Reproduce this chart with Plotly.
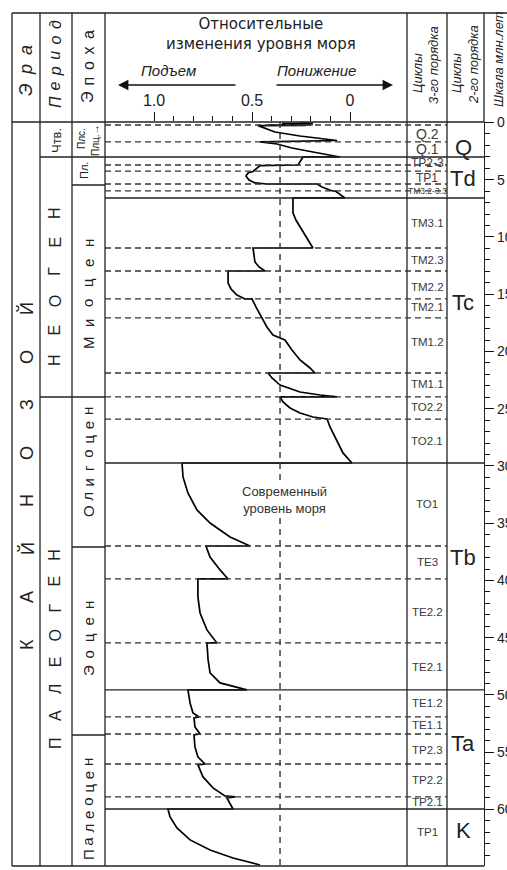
import plotly.graph_objects as go

W, H = 507, 870
SANS = "Liberation Sans, Arial, sans-serif"
WIDE = "DejaVu Sans, Verdana, sans-serif"

# ---------------- data ----------------
# sea-level curve: age (Ma) and relative level (1.0 = high, 0 = low)
ages = [0.04, 0.07, 0.10, 0.13, 0.16, 0.19, 0.22, 0.25, 0.27,
        0.83, 1.18, 1.57, 1.66, 1.70,
        1.88, 2.23, 2.58, 3.01, 3.01,
        3.71, 3.76, 4.28,
        4.41, 4.67, 5.02, 5.28, 5.37, 5.37,
        5.63, 5.94, 6.03, 6.24, 6.59, 6.59,
        7.90, 8.52, 9.13, 10.09, 10.96, 10.96,
        11.57, 12.18, 12.62, 12.97, 12.97,
        14.02, 14.54, 15.07, 15.41, 15.41,
        16.11, 16.46, 17.07, 17.86, 18.56, 18.82, 19.00, 19.87, 20.74, 21.44, 21.88, 21.88,
        22.31, 22.93, 23.54, 23.80, 23.97, 23.97,
        24.41, 24.93, 25.37, 25.72, 25.90,
        26.59, 27.29, 27.73, 28.86, 29.74, 29.74,
        30.96, 32.36, 33.84, 34.98, 36.20, 36.99, 36.99,
        37.95, 39.08, 39.87, 39.87,
        41.44, 42.84, 44.32, 45.46, 45.46,
        46.94, 48.08, 48.95, 49.30, 49.56, 49.56,
        50.70, 51.57, 51.92, 52.01,
        52.79, 53.41, 53.49,
        54.54, 55.41, 56.03, 56.11,
        57.16, 58.12, 58.82, 58.91, 58.99,
        59.34, 59.87, 59.96, 59.96,
        60.66, 61.62, 62.66, 63.54, 64.24, 64.85]
levels = [0.255, 0.189, 0.347, 0.199, 0.330, 0.190, 0.418, 0.224, 0.469,
          0.383, 0.255, 0.066, 0.357, 0.459,
          0.372, 0.296, 0.189, 0.051, 0.240,
          0.265, 0.459, 0.495,
          0.520, 0.531, 0.515, 0.485, 0.424, 0.168,
          0.143, 0.097, 0.071, 0.056, 0.026, 0.291,
          0.291, 0.276, 0.255, 0.219, 0.189, 0.495,
          0.490, 0.485, 0.464, 0.434, 0.622,
          0.622, 0.607, 0.577, 0.536, 0.500,
          0.480, 0.469, 0.449, 0.424, 0.393, 0.357, 0.332, 0.296, 0.255, 0.204, 0.179, 0.418,
          0.398, 0.357, 0.255, 0.153, 0.066, 0.357,
          0.342, 0.306, 0.255, 0.189, 0.117,
          0.102, 0.082, 0.066, 0.036, -0.010, 0.857,
          0.852, 0.827, 0.781, 0.714, 0.612, 0.510, 0.735,
          0.714, 0.663, 0.622, 0.776,
          0.776, 0.765, 0.730, 0.679, 0.730,
          0.724, 0.714, 0.663, 0.587, 0.526, 0.827,
          0.816, 0.801, 0.770, 0.796,
          0.791, 0.765, 0.796,
          0.791, 0.776, 0.740, 0.776,
          0.750, 0.699, 0.638, 0.587, 0.628,
          0.617, 0.597, 0.597, 0.929,
          0.918, 0.883, 0.816, 0.714, 0.597, 0.459]

solid_bounds = [3.01, 6.59, 29.74, 49.56, 59.96]
dashed_bounds = [0.22, 1.70, 3.71, 4.24, 5.37, 5.98, 10.96, 12.97, 15.41, 17.07,
                 21.88, 23.97, 25.90, 36.99, 39.87, 45.46, 51.92, 53.41, 56.03, 58.91]
modern_level = 0.357

cycles3 = ["Q.2", "Q.1", "TP2-3", "TP1", "TM3.2-3.3", "TM3.1", "TM2.3", "TM2.2", "TM2.1",
           "TM1.2", "TM1.1", "TO2.2", "TO2.1", "TO1", "TE3", "TE2.2", "TE2.1", "TE1.2",
           "TE1.1", "TP2.3", "TP2.2", "TP2.1", "TP1"]
cycles3_mid = [1.00, 2.31, 3.54, 4.85, 5.98, 8.78, 12.01, 14.37, 16.11, 19.17, 22.84,
               24.85, 27.82, 33.32, 38.38, 42.75, 47.55, 50.70, 52.62, 54.80, 57.42,
               59.34, 61.97]
cycles3_size = [14, 14, 12, 12, 8.5] + [11.5] * 18

cycles2 = ["Q", "Td", "Tc", "Tb", "Ta", "K"]
cycles2_mid = [2.14, 4.93, 15.76, 38.03, 54.28, 61.88]

level_ticks = [1.0, 0.5, 0.0]
level_ticktext = ["1.0", "0.5", "0"]
level_minor = [0.9, 0.8, 0.7, 0.6, 0.4, 0.3, 0.2, 0.1]
age_ticks = [0, 5, 10, 15, 20, 25, 30, 35, 40, 45, 50, 55, 60, 65]
age_minor = [a for a in range(66) if a % 5]

# ---------------- helpers (pixel layout -> paper) ----------------
def px(x):
    return x / W


def py(y):
    return 1 - y / H


shapes = []


def pline(x0, y0, x1, y1, width=1.3, color="#222", dash="solid"):
    shapes.append(dict(type="line", xref="paper", yref="paper",
                       x0=px(x0), y0=py(y0), x1=px(x1), y1=py(y1),
                       line=dict(color=color, width=width, dash=dash)))


annotations = []


def text(t, x, y, size=12, angle=0, color="#222", family=SANS, yref="paper", bg=None):
    a = dict(text=t, x=px(x), y=py(y) if yref == "paper" else y, xref="paper", yref=yref,
             showarrow=False, textangle=angle, xanchor="center", yanchor="middle",
             font=dict(size=size, color=color, family=family))
    if bg:
        a["bgcolor"] = bg
    annotations.append(a)


def vletters(word, x, y_first, pitch, size, italic=False, color="#222"):
    for i, ch in enumerate(word):
        t = "<i>%s</i>" % ch if italic else ch
        text(t, x, y_first - i * pitch, size=size, angle=-90, color=color)


# ---------------- frame ----------------
pline(12, 13, 507, 13)
pline(12, 13, 12, 866)
pline(12, 866, 484, 866)
pline(12, 122, 484, 122)
for xc in [40, 72, 105, 407, 447]:
    pline(xc, 13, xc, 866)
pline(484, 13, 484, 122)
# period / epoch column separators
pline(40, 157, 105, 157)
pline(40, 397, 105, 397)
pline(72, 185, 105, 185)
pline(72, 547, 105, 547)
pline(72, 735, 105, 735)

# boundaries in the curve / cycle columns (data coords in y)
for b in solid_bounds:
    shapes.append(dict(type="line", xref="paper", yref="y", x0=px(105), x1=px(484),
                       y0=b, y1=b, line=dict(color="#222", width=1.4)))
for b in dashed_bounds:
    shapes.append(dict(type="line", xref="paper", yref="y", x0=px(105), x1=px(447),
                       y0=b, y1=b, line=dict(color="#333", width=1.3, dash="6px,4px")))
# present-day sea level
shapes.append(dict(type="line", xref="x", yref="paper", x0=modern_level, x1=modern_level,
                   y0=py(122), y1=py(866), line=dict(color="#333", width=1.4, dash="6px,5px")))

# ---------------- header texts ----------------
vletters("Эра", 26, 90, 20, 18, italic=True)
vletters("Период", 55, 102, 15.4, 16, italic=True)
vletters("Эпоха", 88, 97, 15.5, 16)
text("Относительные<br>изменения уровня моря", 261, 34, size=15, family=WIDE)
text("<i>Подъем</i>", 168, 70, size=15)
text("<i>Понижение</i>", 316, 70, size=15)
annotations.append(dict(x=px(118), y=py(85), xref="paper", yref="paper", ax=119, ay=0,
                        axref="pixel", ayref="pixel", showarrow=True, arrowhead=2,
                        arrowsize=1.3, arrowwidth=1.6, arrowcolor="#111", text=""))
annotations.append(dict(x=px(393), y=py(85), xref="paper", yref="paper", ax=-118, ay=0,
                        axref="pixel", ayref="pixel", showarrow=True, arrowhead=2,
                        arrowsize=1.3, arrowwidth=1.6, arrowcolor="#111", text=""))
text("<i>Циклы</i>", 417, 73, size=13, angle=-90)
text("<i>3-го порядка</i>", 434, 65, size=13, angle=-90)
text("<i>Циклы</i>", 456, 73, size=13, angle=-90)
text("<i>2-го порядка</i>", 474, 65, size=13, angle=-90)
text("<i>Шкала млн.лет</i>", 499, 59, size=13, angle=-90)

# ---------------- stratigraphic columns ----------------
vletters("КАЙНОЗОЙ", 27, 645, 48, 18)
vletters("НЕОГЕН", 55, 360, 29.4, 16)
vletters("ПАЛЕОГЕН", 55, 743, 26.9, 16)
text("Чтв.", 56, 141, size=13, angle=-90)
text("Плс.", 81, 139, size=10, angle=-90)
text("Плц.→", 95, 140, size=10, angle=-90)
text("Пл.", 84, 171, size=11, angle=-90)
vletters("Миоцен", 88, 343, 20, 15)
vletters("Олигоцен", 88, 511, 14.3, 15)
vletters("Эоцен", 88, 671, 16.5, 15)
vletters("Палеоцен", 88, 855, 13.3, 15)

for name, mid, sz in zip(cycles3, cycles3_mid, cycles3_size):
    text(name, 427, mid, size=sz, color="#3a3a3a", yref="y")
for name, mid in zip(cycles2, cycles2_mid):
    text(name, 463, mid, size=22, color="#222", yref="y")

text("Современный<br>уровень моря", 284, 500, size=13, color="#333", bg="white")

# ---------------- figure ----------------
fig = go.Figure()
fig.add_trace(go.Scatter(x=levels, y=ages, mode="lines", line=dict(color="black", width=1.7),
                         hoverinfo="skip", showlegend=False))

fig.update_layout(
    width=W, height=H, margin=dict(l=0, r=0, t=0, b=0),
    paper_bgcolor="white", plot_bgcolor="white",
    font=dict(family=SANS, color="#222"),
    showlegend=False,
    shapes=shapes, annotations=annotations,
    xaxis=dict(domain=[px(105), px(407)], range=[1.25, -0.2908], side="top", anchor="y",
               tickvals=level_ticks, ticktext=level_ticktext, ticks="outside", ticklen=9,
               tickwidth=1.2, tickcolor="#111",
               minor=dict(tickvals=level_minor, ticks="outside", ticklen=5, tickwidth=1.2,
                          tickcolor="#111", showgrid=False),
               showgrid=False, zeroline=False, showline=False, automargin=False,
               tickfont=dict(size=16, color="#222")),
    yaxis=dict(domain=[1 - 866 / H, 1 - 122 / H], range=[64.94, -0.044], anchor="free",
               position=px(484), side="right", tickvals=age_ticks, ticks="outside",
               ticklen=9, tickwidth=1.2, tickcolor="#111",
               minor=dict(tickvals=age_minor, ticks="outside", ticklen=5, tickwidth=1.2,
                          tickcolor="#111", showgrid=False),
               showline=True, linecolor="#222", linewidth=1.3, showgrid=False,
               zeroline=False, automargin=False, tickfont=dict(size=14, color="#222")),
)

fig.write_html("out.html")
